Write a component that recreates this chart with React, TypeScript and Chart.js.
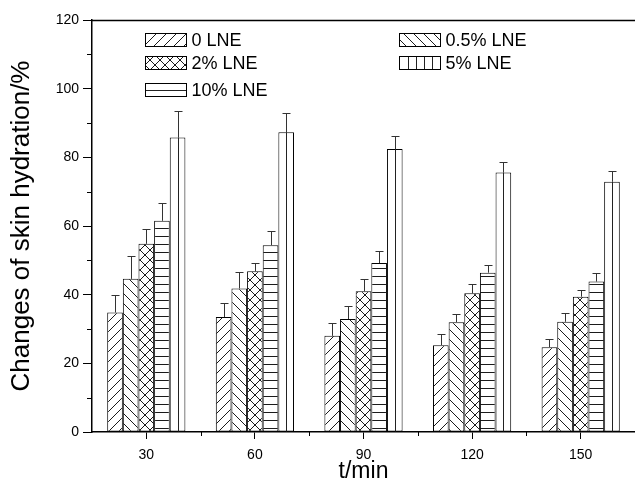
import React, { useEffect, useRef } from 'react';
import { Chart, registerables } from 'chart.js';

Chart.register(...registerables);

const FONT = "'Liberation Sans', Arial, Helvetica, sans-serif";

const categories = ['30', '60', '90', '120', '150'];
const seriesLabels = ['0 LNE', '0.5% LNE', '2% LNE', '5% LNE', '10% LNE'];

const lne0 = [34.8, 33.5, 28.0, 25.3, 24.7];
const lne05 = [44.6, 41.8, 32.9, 32.0, 32.1];
const lne2 = [54.8, 46.8, 41.0, 40.4, 39.4];
const lne5 = [61.5, 54.4, 49.2, 46.4, 43.8];
const lne10 = [85.8, 87.3, 82.4, 75.6, 72.9];

const err0 = [5.0, 4.0, 3.7, 3.2, 2.4];
const err05 = [6.7, 4.9, 3.8, 2.4, 2.5];
const err2 = [4.3, 2.5, 3.6, 2.6, 1.9];
const err5 = [5.1, 4.1, 3.5, 2.3, 2.6];
const err10 = [7.8, 5.5, 3.8, 3.0, 3.1];

const seriesValues = [lne0, lne05, lne2, lne5, lne10];
const seriesErrors = [err0, err05, err2, err5, err10];

const yTicks = [0, 20, 40, 60, 80, 100, 120];
const yMinorTicks = [10, 30, 50, 70, 90, 110];

type Kind = 'fwd' | 'back' | 'cross' | 'horiz' | 'plain';

function makePattern(kind: Kind, size: number): CanvasPattern | string {
  const c = document.createElement('canvas');
  c.width = size;
  c.height = size;
  const ctx = c.getContext('2d')!;
  ctx.fillStyle = '#fff';
  ctx.fillRect(0, 0, size, size);
  ctx.strokeStyle = '#1a1a1a';
  ctx.lineWidth = 1;
  ctx.beginPath();
  if (kind === 'fwd' || kind === 'cross') {
    for (const o of [-size, 0, size]) {
      ctx.moveTo(o, size);
      ctx.lineTo(o + size, 0);
    }
  }
  if (kind === 'back' || kind === 'cross') {
    for (const o of [-size, 0, size]) {
      ctx.moveTo(o, 0);
      ctx.lineTo(o + size, size);
    }
  }
  if (kind === 'horiz') {
    const y = Math.floor(size / 2) + 0.5;
    ctx.moveTo(0, y);
    ctx.lineTo(size, y);
  }
  ctx.stroke();
  const p = ctx.createPattern(c, 'repeat');
  return p || '#fff';
}

export default function App() {
  const ref = useRef<HTMLCanvasElement>(null);

  useEffect(() => {
    const canvas = ref.current!;
    const fills = [
      makePattern('fwd', 10),
      makePattern('back', 10),
      makePattern('cross', 10),
      makePattern('horiz', 8),
      '#ffffff',
    ];

    const decor = {
      id: 'decor',
      afterDatasetsDraw(chart: any) {
        const ctx = chart.ctx as CanvasRenderingContext2D;
        const xs = chart.scales.x;
        const ys = chart.scales.y;
        const area = chart.chartArea;
        ctx.save();

        // vertical centre line for 10% bars
        const meta10 = chart.getDatasetMeta(4);
        ctx.strokeStyle = '#222';
        ctx.lineWidth = 1;
        meta10.data.forEach((el: any) => {
          const x = Math.round(el.x) + 0.5;
          ctx.beginPath();
          ctx.moveTo(x, el.y);
          ctx.lineTo(x, el.base);
          ctx.stroke();
        });

        // error bars (upper only)
        ctx.strokeStyle = '#333';
        seriesValues.forEach((vals, i) => {
          const meta = chart.getDatasetMeta(i);
          meta.data.forEach((el: any, j: number) => {
            const x = Math.round(el.x) + 0.5;
            const yTop = Math.round(ys.getPixelForValue(vals[j] + seriesErrors[i][j])) + 0.5;
            ctx.beginPath();
            ctx.moveTo(x, el.y);
            ctx.lineTo(x, yTop);
            ctx.moveTo(x - 4, yTop);
            ctx.lineTo(x + 4, yTop);
            ctx.stroke();
          });
        });

        // minor ticks
        ctx.strokeStyle = '#000';
        yMinorTicks.forEach((v) => {
          const y = Math.round(ys.getPixelForValue(v)) + 0.5;
          ctx.beginPath();
          ctx.moveTo(area.left - 5, y);
          ctx.lineTo(area.left, y);
          ctx.stroke();
        });
        for (let i = 0; i < categories.length - 1; i++) {
          const x = Math.round((xs.getPixelForValue(i) + xs.getPixelForValue(i + 1)) / 2) + 0.5;
          ctx.beginPath();
          ctx.moveTo(x, area.bottom);
          ctx.lineTo(x, area.bottom + 4);
          ctx.stroke();
        }

        // top frame line
        ctx.lineWidth = 1.5;
        ctx.beginPath();
        ctx.moveTo(area.left, Math.round(area.top) + 0.5);
        ctx.lineTo(chart.width, Math.round(area.top) + 0.5);
        ctx.stroke();

        // legend
        const cols = [145, 399];
        const rows = [33.5, 56.5, 83.5];
        const pos = [
          [0, 0],
          [1, 0],
          [0, 1],
          [1, 1],
          [0, 2],
        ];
        const bw = 41;
        const bh = 13;
        ctx.font = `18px ${FONT}`;
        ctx.textBaseline = 'middle';
        ctx.textAlign = 'left';
        seriesLabels.forEach((label, i) => {
          const bx = cols[pos[i][0]] + 0.5;
          const by = rows[pos[i][1]];
          ctx.fillStyle = i < 3 ? (fills[i] as any) : '#fff';
          ctx.fillRect(bx, by, bw, bh);
          ctx.strokeStyle = '#222';
          ctx.lineWidth = 1;
          if (i === 3) {
            ctx.beginPath();
            for (let k = 1; k < 5; k++) {
              const lx = Math.round(bx + (bw * k) / 5) + 0.5;
              ctx.moveTo(lx, by);
              ctx.lineTo(lx, by + bh);
            }
            ctx.stroke();
          }
          if (i === 4) {
            const ly = Math.round(by + bh / 2) + 0.5;
            ctx.beginPath();
            ctx.moveTo(bx, ly);
            ctx.lineTo(bx + bw, ly);
            ctx.stroke();
          }
          ctx.strokeStyle = '#000';
          ctx.strokeRect(bx, by, bw, bh);
          ctx.fillStyle = '#000';
          ctx.fillText(label, bx + bw + 5, by + bh / 2 + 1);
        });

        ctx.restore();
      },
    };

    const chart = new Chart(canvas, {
      type: 'bar',
      data: {
        labels: categories,
        datasets: seriesValues.map((vals, i) => ({
          label: seriesLabels[i],
          data: vals,
          backgroundColor: fills[i] as any,
          borderColor: '#000',
          borderWidth: 1,
          borderSkipped: false,
          categoryPercentage: 0.72,
          barPercentage: 1,
        })),
      },
      options: {
        animation: false,
        responsive: false,
        devicePixelRatio: 1,
        layout: { padding: { top: 20, left: 0, right: 0, bottom: 0 } },
        plugins: {
          legend: { display: false },
          tooltip: { enabled: false },
        },
        scales: {
          x: {
            type: 'category',
            offset: true,
            grid: {
              display: true,
              drawOnChartArea: false,
              offset: false,
              tickLength: 7,
              color: '#000',
              lineWidth: 1,
            },
            border: { color: '#000', width: 1.5 },
            ticks: {
              color: '#000',
              font: { family: FONT, size: 14 },
              padding: 8,
              maxRotation: 0,
            },
            title: {
              display: true,
              text: 't/min',
              color: '#000',
              font: { family: FONT, size: 23 },
              padding: { top: 0, bottom: 3 },
            },
            afterFit(scale: any) {
              scale.height = 56;
            },
          },
          y: {
            min: 0,
            max: 120,
            afterBuildTicks(scale: any) {
              scale.ticks = yTicks.map((v) => ({ value: v }));
            },
            grid: {
              display: true,
              drawOnChartArea: false,
              tickLength: 9,
              color: '#000',
              lineWidth: 1,
            },
            border: { color: '#000', width: 1.5 },
            ticks: {
              color: '#000',
              font: { family: FONT, size: 14 },
              padding: 4,
            },
            title: {
              display: true,
              text: 'Changes of skin hydration/%',
              color: '#000',
              font: { family: FONT, size: 26 },
              padding: { top: 6, bottom: 0 },
            },
            afterFit(scale: any) {
              scale.width = 92;
            },
          },
        },
      },
      plugins: [decor],
    });

    return () => chart.destroy();
  }, []);

  return (
    <div style={{ position: 'absolute', left: 0, top: 0, width: 635, height: 488, background: '#fff' }}>
      <canvas ref={ref} width={635} height={488} style={{ display: 'block' }} />
    </div>
  );
}
